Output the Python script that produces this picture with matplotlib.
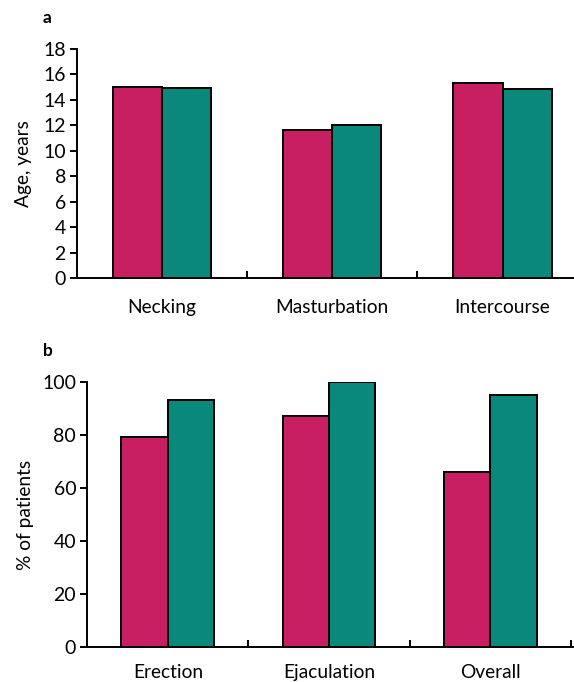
import matplotlib
matplotlib.use("Agg")
import matplotlib.pyplot as plt
import numpy as np

plt.rcParams['font.family'] = ['Lato', 'DejaVu Sans']

cats_a = ["Necking", "Masturbation", "Intercourse"]
group1_a = [15.0, 11.65, 15.3]
group2_a = [14.9, 12.0, 14.85]
yticks_a = [0, 2, 4, 6, 8, 10, 12, 14, 16, 18]

cats_b = ["Erection", "Ejaculation", "Overall"]
group1_b = [79, 87, 66]
group2_b = [93, 100, 95]
yticks_b = [0, 20, 40, 60, 80, 100]

MAGENTA = "#C81F63"
TEAL = "#0B887C"

W, H = 574, 682
fig = plt.figure(figsize=(W / 100, H / 100), dpi=100)

def panel(rect, cats, g1, g2, yticks, ymax, xmax, ylabel, letter, letter_xy, ylabel_x, xpad):
    ax = fig.add_axes(rect)
    x = np.arange(len(cats))
    w = 0.288
    ax.bar(x - w / 2, g1, w, color=MAGENTA, edgecolor="black", linewidth=1.4, zorder=3)
    ax.bar(x + w / 2, g2, w, color=TEAL, edgecolor="black", linewidth=1.4, zorder=3)
    for s in ["top", "right"]:
        ax.spines[s].set_visible(False)
    for s in ["left", "bottom"]:
        ax.spines[s].set_linewidth(1.4)
    ax.set_yticks(yticks)
    ax.tick_params(axis="y", direction="out", length=5, width=1.4, labelsize=14, pad=3)
    ax.set_xticks([0.5, 1.5, 2.5])
    ax.set_xticklabels([])
    ax.tick_params(axis="x", which="major", direction="in", length=5, width=1.4)
    ax.set_xticks(x, minor=True)
    ax.set_xticklabels(cats, minor=True, fontsize=13.8)
    ax.tick_params(axis="x", which="minor", length=0, pad=xpad)
    ax.set_xlim(-0.5, xmax)
    ax.set_ylim(0, ymax)
    fig.text(ylabel_x, rect[1] + rect[3] / 2, ylabel, rotation=90, ha="center", va="center", fontsize=13.8)
    fig.text(letter_xy[0], letter_xy[1], letter, ha="center", va="center", fontsize=12.5, fontweight="bold")
    return ax

panel([77 / W, 1 - 278 / H, 1 - 77 / W, (278 - 49) / H], cats_a, group1_a, group2_a,
      yticks_a, 18, 2.42, "Age, years", "a", (47 / W, 1 - 18 / H), 24 / W, 15)
panel([87.3 / W, 1 - 647.3 / H, 1 - 87.3 / W, (647.3 - 381.7) / H], cats_b, group1_b, group2_b,
      yticks_b, 100, 2.52, "% of patients", "b", (48 / W, 1 - 351 / H), 25 / W, 12)

fig.savefig("out.png", dpi=100)
